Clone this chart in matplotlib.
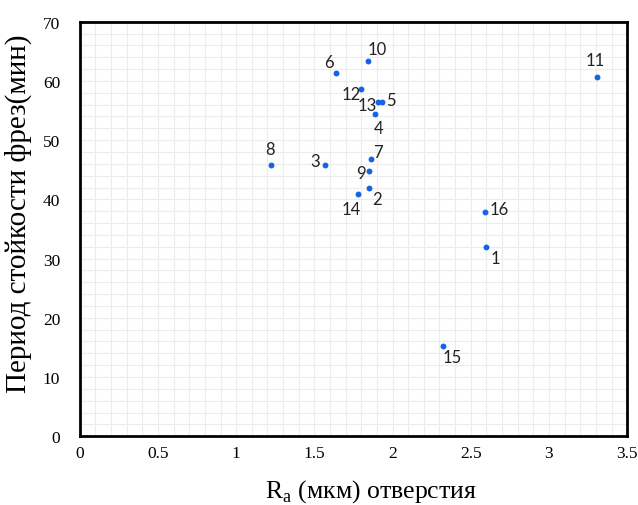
import matplotlib
matplotlib.use("Agg")
import matplotlib.pyplot as plt
import numpy as np

plt.rcParams['font.family'] = ['Liberation Serif', 'DejaVu Serif']

# data
labels = ['1', '2', '3', '4', '5', '6', '7', '8', '9', '10', '11', '12', '13', '14', '15', '16']
ra = [2.60, 1.85, 1.57, 1.89, 1.93, 1.64, 1.86, 1.22, 1.85, 1.84, 3.31, 1.80, 1.91, 1.78, 2.32, 2.59]
period = [31.9, 41.9, 45.8, 54.5, 56.5, 61.4, 46.8, 45.8, 44.8, 63.4, 60.6, 58.7, 56.5, 40.9, 15.3, 37.9]

# label offsets (pixels, dx right, dy down)
offs = {'1': (9, 11), '2': (8, 11), '3': (-10, -4), '4': (3, 14), '5': (9, -2),
        '6': (-7, -11), '7': (7, -7), '8': (0, -16), '9': (-8, 2), '10': (10, -12),
        '11': (-2, -17), '12': (-10, 5), '13': (-11, 3), '14': (-7, 15),
        '15': (10, 11), '16': (14, -3)}

xticks = [0, 0.5, 1, 1.5, 2, 2.5, 3, 3.5]
yticks = [0, 10, 20, 30, 40, 50, 60, 70]

fig = plt.figure(figsize=(6.38, 5.06), dpi=100)
ax = fig.add_axes([0.125, 0.136, 0.858, 0.819])

ax.scatter(ra, period, s=18, color='#1563e6', zorder=3, linewidths=0)
for lab, x, y in zip(labels, ra, period):
	dx, dy = offs[lab]
	ax.annotate(lab, (x, y), xytext=(dx * 0.72, -dy * 0.72), textcoords='offset points',
		ha='center', va='center', fontsize=12, family='Lato', color='#222222')

ax.set_xlim(0, 3.5)
ax.set_ylim(0, 70)
ax.set_xticks(np.arange(0, 3.5001, 0.1), minor=True)
ax.set_yticks(np.arange(0, 70.001, 2), minor=True)
ax.set_xticks(xticks)
ax.set_yticks(yticks)
ax.set_xticklabels(['0', '0.5', '1', '1.5', '2', '2.5', '3', '3.5'])
ax.grid(which='both', color='#ececec', linewidth=0.8, zorder=0)
ax.tick_params(which='both', length=0)
ax.tick_params(axis='x', pad=6, labelsize=12.5)
ax.tick_params(axis='y', pad=14, labelsize=12.5)
for sp in ax.spines.values():
	sp.set_linewidth(2)
	sp.set_color('black')

ax.set_xlabel('R$_\\mathregular{a}$ (мкм) отверстия', fontsize=18.5)
ax.set_ylabel('Период стойкости фрез(мин)', fontsize=21)
ax.xaxis.set_label_coords(0.532, -0.1)
ax.yaxis.set_label_coords(-0.088, 0.54)

fig.savefig('out.png', dpi=100)
